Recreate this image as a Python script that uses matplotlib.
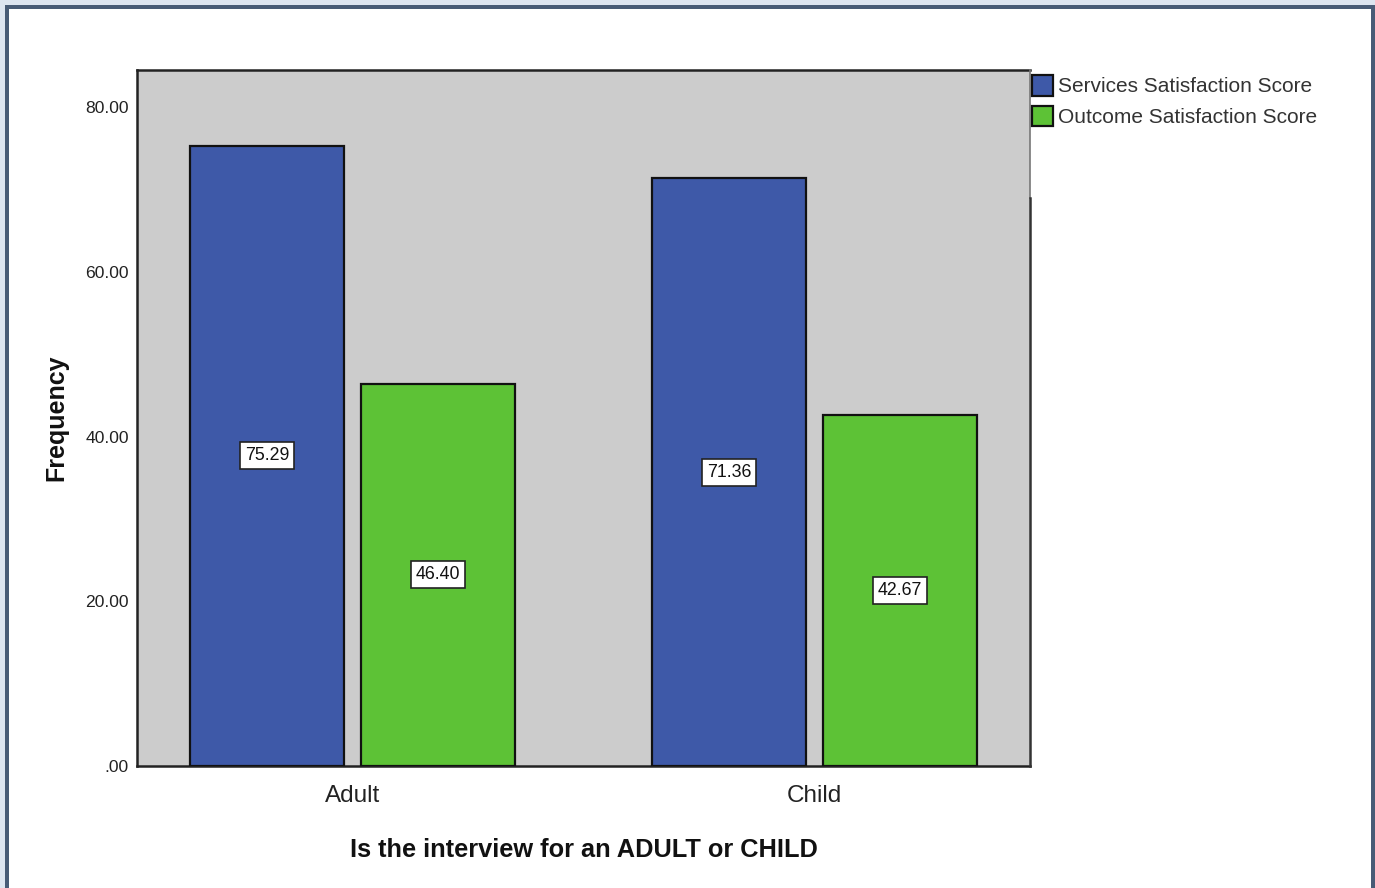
import matplotlib

matplotlib.use("Agg")
import matplotlib.pyplot as plt
from matplotlib.lines import Line2D
from matplotlib.patches import Patch, Rectangle

categories = ["Adult", "Child"]
services_scores = [75.29, 71.36]
outcome_scores = [46.40, 42.67]
series_names = ["Services Satisfaction Score", "Outcome Satisfaction Score"]
y_ticks = [0, 20, 40, 60, 80]
y_tick_labels = [".00", "20.00", "40.00", "60.00", "80.00"]

BLUE = "#3e59a8"
GREEN = "#5dc236"
PANEL = "#cccccc"
FRAME = "#485b76"
OUTER = "#dde5f0"
SANS = ["Liberation Sans", "DejaVu Sans"]

W, H = 1375, 888
fig = plt.figure(figsize=(W / 100, H / 100), dpi=100)
fig.patch.set_facecolor(OUTER)


def px(x, y):
    # pixel position (top-left origin) -> figure fraction
    return x / W, 1 - y / H


# window-style frame: dark border with white interior
x0, y0 = px(5, 5)
fig.patches.append(Rectangle((x0, 0), 1 - x0, y0, transform=fig.transFigure,
                             facecolor=FRAME, edgecolor="none", zorder=-2))
x1, y1 = px(9, 9)
x2, _ = px(1371, 0)
fig.patches.append(Rectangle((x1, 0), x2 - x1, y1, transform=fig.transFigure,
                             facecolor="white", edgecolor="none", zorder=-1))

left, top = px(137, 70)
right, bottom = px(1030, 766)
ax = fig.add_axes([left, bottom, right - left, top - bottom])
ax.set_zorder(2)
ax.set_facecolor(PANEL)

x = list(range(len(categories)))
bar_w = 0.333
offset = 0.185
bars_s = ax.bar([i - offset for i in x], services_scores, width=bar_w,
                color=BLUE, edgecolor="#111111", linewidth=1.6, zorder=3)
bars_o = ax.bar([i + offset for i in x], outcome_scores, width=bar_w,
                color=GREEN, edgecolor="#111111", linewidth=1.6, zorder=3)

# value boxes sit halfway up each bar
for bars, vals in ((bars_s, services_scores), (bars_o, outcome_scores)):
    for b, v in zip(bars, vals):
        ax.text(b.get_x() + b.get_width() / 2, v / 2, f"{v:.2f}",
                ha="center", va="center", fontsize=12.8, family=SANS,
                color="#111111", zorder=5,
                bbox=dict(boxstyle="square,pad=0.28", facecolor="white",
                          edgecolor="#222222", linewidth=1.2))

ax.set_xlim(-0.4665, 1.4665)
ax.set_ylim(0, 84.5)
ax.set_yticks(y_ticks)
ax.set_yticklabels(y_tick_labels, family=SANS, fontsize=12.6, color="#222222")
ax.set_xticks(x)
ax.set_xticklabels(categories, family=SANS, fontsize=17.5, color="#222222")
ax.tick_params(axis="both", length=0)
ax.tick_params(axis="y", pad=6)
ax.tick_params(axis="x", pad=14)

for side in ("left", "top", "bottom"):
    ax.spines[side].set_color("#222222")
    ax.spines[side].set_linewidth(1.8)
ax.spines["right"].set_visible(False)
# right edge: thin grey at the top, darker below where the legend ends
cut = 1 - (198 - 70) / (766 - 70)
ax.add_line(Line2D([1, 1], [cut, 1], transform=ax.transAxes, color="#777777",
                   linewidth=1.2, clip_on=False, zorder=6))
ax.add_line(Line2D([1, 1], [0, cut], transform=ax.transAxes, color="#333333",
                   linewidth=1.8, clip_on=False, zorder=6))

ax.set_ylabel("Frequency", family=SANS, fontsize=18, fontweight="bold",
              color="#111111", labelpad=12)
ax.set_xlabel("Is the interview for an ADULT or CHILD", family=SANS,
              fontsize=18.3, fontweight="bold", color="#111111", labelpad=22)

handles = [Patch(facecolor=BLUE, edgecolor="#111111", linewidth=1.6),
           Patch(facecolor=GREEN, edgecolor="#111111", linewidth=1.6)]
lx, ly = px(1032, 75)
fig.legend(handles, series_names, loc="upper left", bbox_to_anchor=(lx, ly),
           frameon=False, borderpad=0, borderaxespad=0,
           handlelength=1.0, handleheight=1.15, handletextpad=0.25,
           labelspacing=0.45, prop={"family": SANS, "size": 15},
           labelcolor="#333333")

fig.savefig("out.png", dpi=100, facecolor=fig.get_facecolor())
